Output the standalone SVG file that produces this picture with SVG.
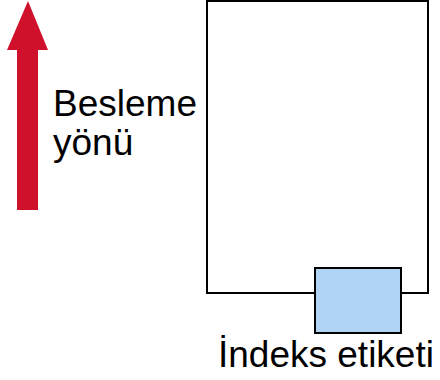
<svg xmlns="http://www.w3.org/2000/svg" width="440" height="380" viewBox="0 0 440 380">
<style>
.t{font-family:"Liberation Sans",Arial,sans-serif;font-size:37px;fill:#000}
.box{fill:#fff;stroke:#000;stroke-width:2}
</style>
<rect width="440" height="380" fill="#fff"/>
<g id="arrow">
<polygon points="28,1 48,50 38,50 38,210 17,210 17,50 7,50" fill="#d0112b"/>
</g>
<g id="label-feed">
<text class="t" x="53" y="116">Besleme</text>
<text class="t" x="53" y="155">yönü</text>
</g>
<g id="sheet">
<rect class="box" x="207" y="1" width="221" height="292"/>
</g>
<g id="tab">
<rect x="315" y="268" width="86" height="65" fill="#b0d4f4" stroke="#000" stroke-width="2"/>
<text class="t" x="218" y="367">İndeks etiketi</text>
</g>
</svg>
